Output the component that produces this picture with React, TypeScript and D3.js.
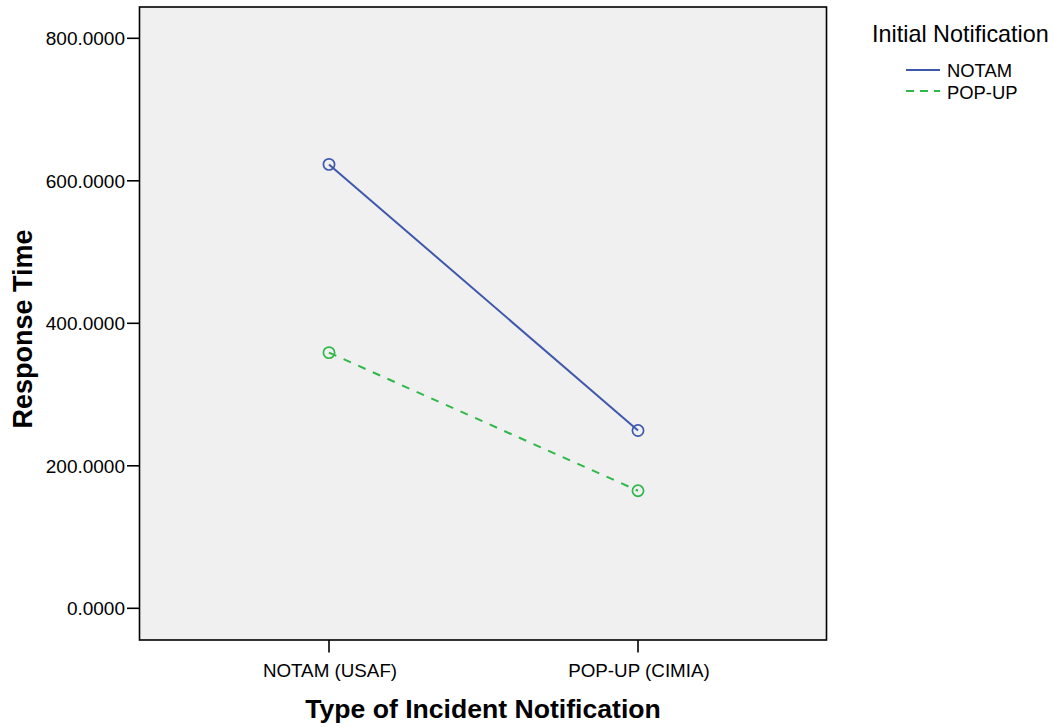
import React from "react";
import * as d3 from "d3";

const categories = ["NOTAM (USAF)", "POP-UP (CIMIA)"];
const seriesNames = ["NOTAM", "POP-UP"];
const notamValues = [623, 249.5];
const popupValues = [358.8, 165];
const yTicks = [0, 200, 400, 600, 800];

const W = 1054;
const H = 727;
const plot = { left: 139.5, right: 826.5, top: 7, bottom: 640 };
const colors = ["#3E58AC", "#2EB848"];
const dashes = ["none", "8,8"];
const font = "'Liberation Sans', Arial, Helvetica, sans-serif";

export default function App() {
  const y = d3.scaleLinear().domain([0, 800]).range([608.3, 38.3]);
  const x = d3
    .scalePoint<string>()
    .domain(categories)
    .range([329, 638]);
  const line = d3
    .line<number>()
    .x((_, i) => x(categories[i]) as number)
    .y((d) => y(d));
  const series = [notamValues, popupValues];

  return (
    <svg
      width={W}
      height={H}
      style={{ position: "absolute", left: 0, top: 0, background: "#fff" }}
      fontFamily={font}
    >
      <rect x={0} y={0} width={W} height={H} fill="#fff" />
      <rect
        x={plot.left}
        y={plot.top}
        width={plot.right - plot.left}
        height={plot.bottom - plot.top}
        fill="#F0F0F0"
        stroke="#000"
        strokeWidth={1.6}
      />
      {yTicks.map((t) => (
        <g key={t}>
          <line x1={127} x2={plot.left} y1={y(t)} y2={y(t)} stroke="#000" strokeWidth={1.6} />
          <text x={125} y={y(t)} dy="0.36em" textAnchor="end" fontSize={19} fill="#000">
            {t.toFixed(4)}
          </text>
        </g>
      ))}
      {categories.map((c) => (
        <g key={c}>
          <line x1={x(c)} x2={x(c)} y1={plot.bottom} y2={652.5} stroke="#000" strokeWidth={1.6} />
          <text x={(x(c) as number) + 1} y={677} textAnchor="middle" fontSize={18.8} fill="#000">
            {c}
          </text>
        </g>
      ))}
      {series.map((vals, si) => (
        <g key={si}>
          <path
            d={line(vals) || ""}
            fill="none"
            stroke={colors[si]}
            strokeWidth={2}
            strokeDasharray={dashes[si]}
          />
          {vals.map((v, i) => (
            <circle
              key={i}
              cx={x(categories[i])}
              cy={y(v)}
              r={5.6}
              fill="none"
              stroke={colors[si]}
              strokeWidth={1.7}
            />
          ))}
        </g>
      ))}
      <text x={483} y={718} textAnchor="middle" fontSize={26.6} fontWeight="bold" fill="#000">
        Type of Incident Notification
      </text>
      <text
        transform={`translate(32,329) rotate(-90)`}
        textAnchor="middle"
        fontSize={27}
        fontWeight="bold"
        fill="#000"
      >
        Response Time
      </text>
      <text x={872} y={41.5} fontSize={23.4} fill="#000">
        Initial Notification
      </text>
      {seriesNames.map((n, i) => (
        <g key={n}>
          <line
            x1={906}
            x2={940}
            y1={70 + i * 21}
            y2={70 + i * 21}
            stroke={colors[i]}
            strokeWidth={2}
            strokeDasharray={i === 1 ? "8,6" : "none"}
          />
          <text x={947} y={77 + i * 22} fontSize={18.4} fill="#000">
            {n}
          </text>
        </g>
      ))}
    </svg>
  );
}
